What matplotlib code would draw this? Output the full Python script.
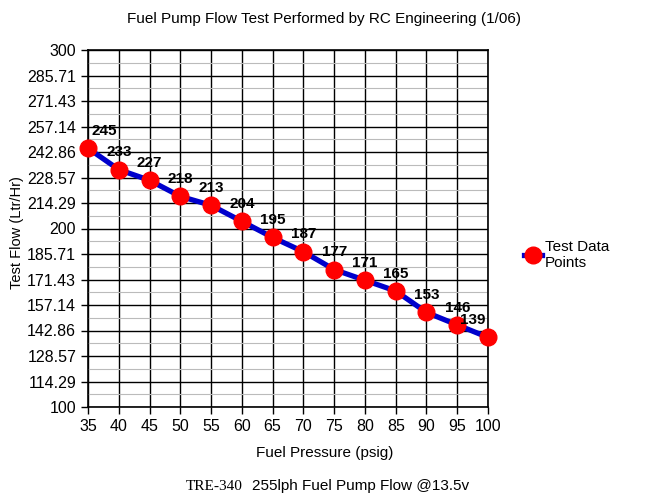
import matplotlib
matplotlib.use("Agg")
import matplotlib.pyplot as plt
import numpy as np
from matplotlib.ticker import FixedLocator, FuncFormatter

pressure = [35, 40, 45, 50, 55, 60, 65, 70, 75, 80, 85, 90, 95, 100]
flow = [245, 233, 227, 218, 213, 204, 195, 187, 177, 171, 165, 153, 146, 139]
y_ticks = [100, 114.29, 128.57, 142.86, 157.14, 171.43, 185.71, 200,
           214.29, 228.57, 242.86, 257.14, 271.43, 285.71, 300]
x_ticks = [35, 40, 45, 50, 55, 60, 65, 70, 75, 80, 85, 90, 95, 100]

plt.rcParams['font.family'] = ['Liberation Sans', 'DejaVu Sans']

fig = plt.figure(figsize=(6.48, 5.0), dpi=100)
ax = fig.add_axes([88/648, 93/500, 400/648, 357/500])

ax.set_xlim(35, 100)
ax.set_ylim(100, 300)
ystep = 200/14
ax.yaxis.set_major_locator(FixedLocator([100 + i*ystep for i in range(15)]))
ax.yaxis.set_minor_locator(FixedLocator([100 + (i+0.5)*ystep for i in range(14)]))
ax.yaxis.set_major_formatter(FuncFormatter(
    lambda v, p: f"{y_ticks[int(round((v-100)/ystep))]:g}"))
ax.xaxis.set_major_locator(FixedLocator(x_ticks))

ax.grid(True, which='major', color='black', linewidth=1.0)
ax.grid(True, which='minor', axis='y', color='#bbbbbb', linewidth=0.8)
ax.set_axisbelow(True)
for s in ax.spines.values():
    s.set_color('black')
    s.set_linewidth(1.2)

ax.tick_params(axis='both', which='major', direction='out', length=5, width=1,
               labelsize=11.5, colors='black')
ax.tick_params(axis='y', which='minor', length=0)

line, = ax.plot(pressure, flow, color='#0000cc', linewidth=3.8, marker='o',
                markersize=12, markerfacecolor='#ff0000', markeredgecolor='#ff0000',
                clip_on=False, zorder=5)

dx_special = {0: 16, len(flow)-1: -15}
for i, (x, y) in enumerate(zip(pressure, flow)):
    ax.annotate(str(y), (x, y), xytext=(dx_special.get(i, 0)*0.72, 12.5),
                textcoords='offset points', ha='center', va='center',
                fontsize=11, fontweight='bold', zorder=6)

ax.set_ylabel('Test Flow (Ltr/Hr)', fontsize=10.5)
ax.yaxis.set_label_coords(-64/400, 0.49)

fig.text(325/648, 1 - 453/500, 'Fuel Pressure (psig)', ha='center', va='center', fontsize=11)
fig.text(0.5, 0.963, 'Fuel Pump Flow Test Performed by RC Engineering (1/06)',
         ha='center', va='center', fontsize=11)

leg = fig.legend([line], ['Test Data\nPoints'], loc='center left',
                 bbox_to_anchor=(510/648, 254/500 - 9/500), frameon=False, fontsize=11,
                 handlelength=1.2, handletextpad=0.2, labelspacing=0.2)

fig.text(243/648, 1 - 486/500, 'TRE-340', family='Liberation Serif', ha='right', va='center', fontsize=11)
fig.text(252/648, 1 - 486/500, '255lph Fuel Pump Flow @13.5v', ha='left', va='center', fontsize=11)

fig.savefig('out.png', dpi=100)
